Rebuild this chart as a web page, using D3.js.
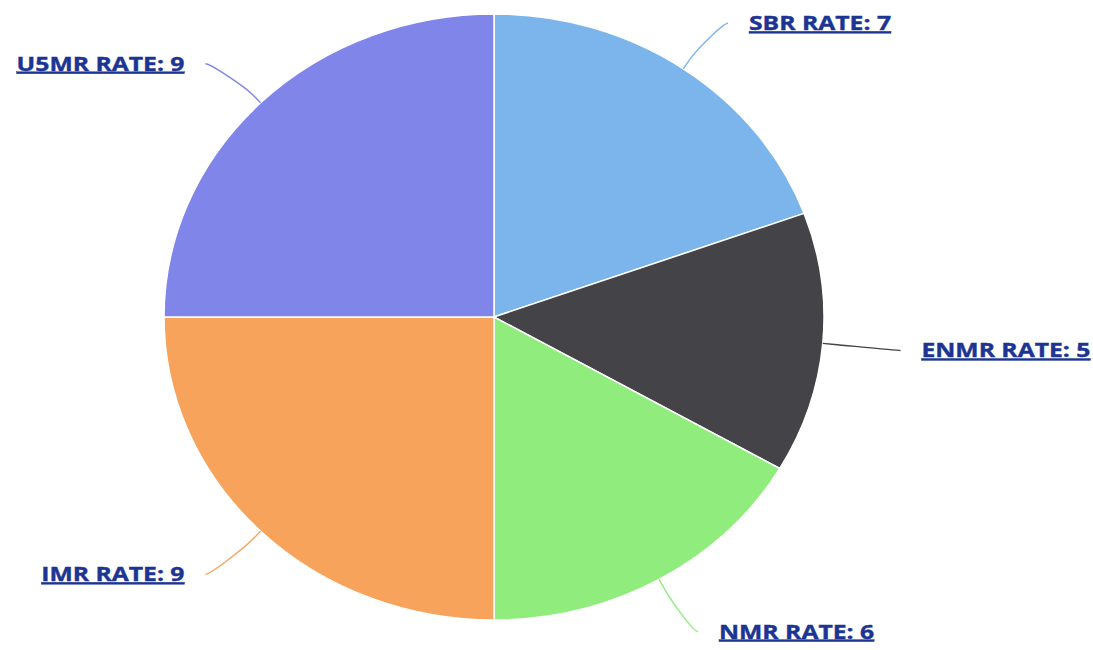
<!DOCTYPE html>
<html><head><meta charset="utf-8">
<script src="https://cdn.jsdelivr.net/npm/d3@7"></script>
<style>body{margin:0;background:#fff}svg{display:block}</style>
</head><body>
<svg id="c" width="1093" height="650"></svg>
<script>
const categories = ["SBR RATE", "ENMR RATE", "NMR RATE", "IMR RATE", "U5MR RATE"];
const values = [7, 5, 6, 9, 9];
const colors = ["#7cb5ec", "#434348", "#90ed7d", "#f7a35c", "#8085e9"];

const W = 1093, H = 650;
const cx = 494, cy = 317, ry = 303, rx = 330;
const sx = rx / ry;
const svg = d3.select("#c");

const data = categories.map((c, i) => ({ name: c, value: values[i], color: colors[i] }));
const pie = d3.pie().value(d => d.value).sort(null);
const arcs = pie(data);
const arc = d3.arc().innerRadius(0).outerRadius(ry);

const g = svg.append("g").attr("transform", `translate(${cx},${cy}) scale(${sx},1)`);
g.selectAll("path").data(arcs).join("path")
  .attr("d", arc)
  .attr("fill", d => d.data.color)
  .attr("stroke", "#ffffff")
  .attr("stroke-width", 1.5)
  .attr("vector-effect", "non-scaling-stroke");

// labels + connectors
const labRx = 408, labRy = 361, gap = 21;
const lg = svg.append("g");
let k = null;
arcs.forEach(a => {
  const m = (a.startAngle + a.endAngle) / 2;
  const s = Math.sin(m), c = Math.cos(m);
  const right = s >= 0;
  const tx = cx + rx * s, ty = cy - ry * c;
  const bx = cx + (rx + 12) * s, by = cy - (ry + 12) * c;
  const ex = cx + labRx * s, ey = cy - labRy * c + 2;
  const dir = right ? 1 : -1;
  const p = d3.path();
  p.moveTo(ex, ey);
  p.bezierCurveTo(ex - dir * 5, ey, 2 * bx - tx, 2 * by - ty, bx, by);
  p.lineTo(tx, ty);
  lg.append("path").attr("d", p.toString())
    .attr("fill", "none").attr("stroke", a.data.color).attr("stroke-width", 1.4);
  lg.append("text")
    .attr("x", ex + dir * gap).attr("y", ey + 7)
    .attr("text-anchor", right ? "start" : "end")
    .attr("font-family", "'Open Sans', sans-serif")
    .attr("font-weight", "bold")
    .attr("font-size", 20)
    .attr("fill", "#1c3592")
    .attr("stroke", "#1c3592")
    .attr("stroke-width", 0.4)
    .attr("text-decoration", "underline")
    .text(`${a.data.name}: ${a.data.value}`)
    .each(function () {
      const w = this.getComputedTextLength();
      if (k === null) k = 142 / w;
      d3.select(this).attr("textLength", w * k).attr("lengthAdjust", "spacingAndGlyphs");
    });
});
</script>
</body></html>
